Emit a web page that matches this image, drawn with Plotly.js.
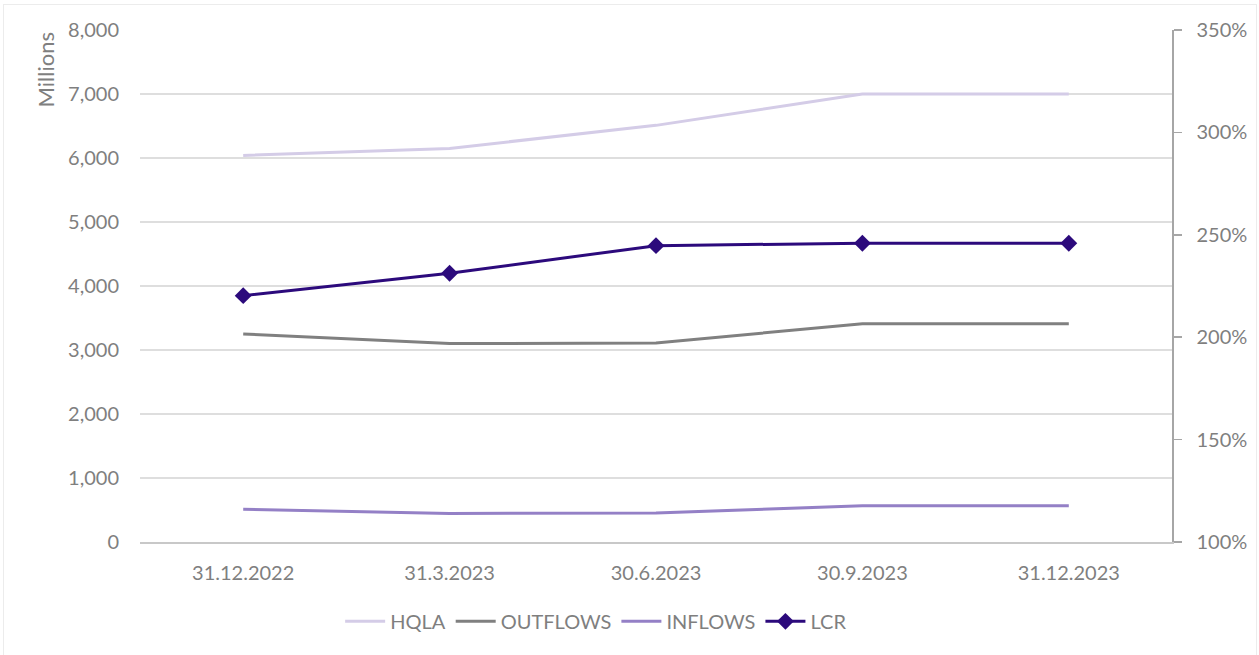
<!DOCTYPE html>
<html>
<head>
<meta charset="utf-8">
<script src="https://cdn.plot.ly/plotly-3.0.1.min.js"></script>
<style>
  html, body { margin: 0; padding: 0; background: #fff; }
  #frame { position: absolute; left: 3px; top: 4px; width: 1254px; height: 660px; border: 1px solid #ececec; box-sizing: border-box; }
  #chart { position: absolute; left: 0; top: 0; width: 1259px; height: 655px; }
</style>
</head>
<body>
<div id="frame"></div>
<div id="chart"></div>
<script>
const categories = ["31.12.2022", "31.3.2023", "30.6.2023", "30.9.2023", "31.12.2023"];
const hqla = [6040, 6150, 6510, 7000, 7000];
const outflows = [3250, 3100, 3110, 3410, 3410];
const inflows = [510, 445, 455, 565, 565];
const lcr = [2.203, 2.312, 2.447, 2.459, 2.459];

const FONT = "Lato, 'Open Sans', sans-serif";
const GRAY = "#7f7f7f";

const traces = [
  { x: categories, y: hqla, name: "HQLA", type: "scatter", mode: "lines",
    line: { color: "#d4cce7", width: 3 } },
  { x: categories, y: outflows, name: "OUTFLOWS", type: "scatter", mode: "lines",
    line: { color: "#808080", width: 3 } },
  { x: categories, y: inflows, name: "INFLOWS", type: "scatter", mode: "lines",
    line: { color: "#9480c6", width: 3 } },
  { x: categories, y: lcr, name: "LCR", type: "scatter", mode: "lines+markers", yaxis: "y2",
    line: { color: "#2c0a7c", width: 3 },
    marker: { symbol: "diamond", size: 13, color: "#2c0a7c" } }
];

const layout = {
  width: 1259, height: 655,
  margin: { l: 140, r: 87, t: 30, b: 113 },
  paper_bgcolor: "rgba(0,0,0,0)",
  plot_bgcolor: "rgba(0,0,0,0)",
  font: { family: FONT, size: 20, color: GRAY },
  showlegend: true,
  legend: { orientation: "h", x: 0.442, xanchor: "center", y: -0.155, yanchor: "middle",
            itemwidth: 40,
            font: { family: FONT, size: 20, color: GRAY }, traceorder: "normal" },
  xaxis: {
    type: "category", range: [-0.5, 4.5],
    showgrid: false, zeroline: false,
    showline: true, linecolor: "#c8c8c8", linewidth: 1.5,
    ticks: "", ticklabelstandoff: 12,
    tickfont: { family: FONT, size: 20, color: GRAY }
  },
  yaxis: {
    range: [0, 8000], dtick: 1000, tickformat: ",d",
    showgrid: true, gridcolor: "#dedede", gridwidth: 1.3,
    zeroline: false, showline: false, ticks: "",
    ticklabelstandoff: 20,
    tickfont: { family: FONT, size: 20, color: GRAY }
  },
  yaxis2: {
    overlaying: "y", side: "right",
    range: [1.0, 3.5], dtick: 0.5, tickformat: ".0%",
    showgrid: false, zeroline: false,
    showline: true, linecolor: "#a6a6a6", linewidth: 1.5,
    ticks: "outside", ticklen: 8, tickcolor: "#a6a6a6", tickwidth: 1.5,
    ticklabelstandoff: 11,
    tickfont: { family: FONT, size: 20, color: GRAY }
  },
  annotations: [
    { text: "Millions", xref: "paper", yref: "paper", x: 0, y: 1,
      xanchor: "center", yanchor: "top", xshift: -95, yshift: -1, textangle: -90,
      showarrow: false, font: { family: FONT, size: 22, color: GRAY } }
  ]
};

Plotly.newPlot("chart", traces, layout, { displayModeBar: false, staticPlot: true });
</script>
</body>
</html>
